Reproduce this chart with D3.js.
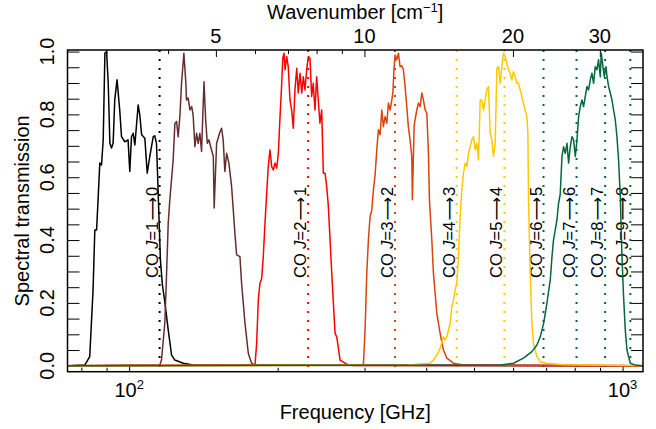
<!DOCTYPE html>
<html>
<head>
<meta charset="utf-8">
<script src="https://cdn.jsdelivr.net/npm/d3@7"></script>
<style>
  body { margin: 0; background: #fff; }
  text { font-family: "Liberation Sans", Arial, Helvetica, sans-serif; fill: #000; }
</style>
</head>
<body>
<div id="chart"></div>
<script>
// Band transmission curves: [frequency GHz, transmission]
const band1 = [[75,0],[81.3,0.002],[83.2,0.029],[84.5,0.241],[85.2,0.432],[85.9,0.432],[86.5,0.528],[87.2,0.645],[87.9,0.639],[88.6,0.719],[89.3,0.995],[90.0,1.0],[90.7,0.900],[91.4,0.708],[92.1,0.693],[92.8,0.709],[93.5,0.846],[94.5,0.910],[95.7,0.814],[96.5,0.729],[98.0,0.713],[99.5,0.719],[100.3,0.618],[101.1,0.729],[101.9,0.740],[102.7,0.703],[104.3,0.830],[105.1,0.798],[106.0,0.735],[107.6,0.724],[108.8,0.613],[110.1,0.666],[111.9,0.729],[112.7,0.732],[113.6,0.708],[114.1,0.623],[114.9,0.480],[115.7,0.337],[116.8,0.257],[118.1,0.203],[120.0,0.114],[121.9,0.034],[123.8,0.018],[128.7,0.008],[134.8,0.002],[1100,0]];
const band2 = [[75,0],[115.4,0.002],[116.3,0.018],[118.1,0.136],[119.1,0.295],[120.0,0.454],[120.9,0.528],[122.8,0.655],[123.8,0.772],[124.8,0.777],[125.7,0.729],[126.7,0.793],[127.7,0.899],[129.1,0.995],[130.3,0.899],[130.7,0.846],[131.7,0.852],[132.8,0.814],[133.9,0.825],[134.8,0.798],[135.9,0.697],[137.0,0.740],[138.0,0.708],[139.1,0.740],[140.2,0.682],[141.8,0.904],[142.9,0.783],[144.0,0.708],[145.1,0.719],[146.3,0.697],[148.1,0.666],[148.7,0.502],[150.4,0.708],[152.8,0.745],[153.9,0.756],[155.1,0.719],[156.3,0.618],[157.6,0.676],[159.3,0.645],[161.3,0.570],[162.5,0.500],[163.8,0.422],[165.1,0.353],[167.7,0.347],[169.0,0.262],[171.7,0.135],[174.4,0.039],[177.1,0.008],[179.9,0.002],[1100,0]];
const band3 = [[75,0],[179.9,0.002],[181.3,0.071],[182.7,0.209],[184.1,0.262],[185.6,0.278],[187.0,0.347],[188.5,0.454],[190.0,0.549],[191.4,0.634],[192.9,0.687],[194.5,0.634],[196.0,0.623],[197.5,0.645],[199.1,0.629],[200.6,0.676],[202.2,0.793],[203.8,0.899],[204.8,0.979],[206.0,0.995],[207.0,0.942],[208.6,0.984],[210.1,0.952],[211.8,0.846],[213.5,0.814],[215.1,0.756],[216.8,0.878],[218.6,0.947],[220.2,0.868],[222.0,0.931],[223.8,0.868],[225.4,0.920],[227.2,0.878],[229.0,0.942],[230.7,0.984],[232.5,0.979],[234.4,0.857],[236.1,0.899],[238.0,0.814],[239.9,0.920],[241.7,0.846],[243.6,0.772],[245.6,0.814],[247.5,0.613],[249.5,0.613],[251.4,0.570],[253.3,0.510],[257.4,0.294],[261.4,0.103],[263.5,0.092],[267.6,0.018],[276.1,0.005],[284.8,0.001],[1100,0]];
const band4 = [[75,0],[298.3,0.002],[300.7,0.114],[303.1,0.294],[305.4,0.400],[307.8,0.475],[310.3,0.496],[312.6,0.559],[315.1,0.607],[317.6,0.687],[320.0,0.751],[322.5,0.735],[325.1,0.814],[327.5,0.761],[330.2,0.793],[332.8,0.772],[335.3,0.836],[338.0,0.814],[340.7,0.846],[342.3,0.868],[344.4,0.952],[345.9,0.989],[348.7,0.974],[351.3,0.995],[354.1,0.952],[356.8,0.955],[359.6,0.942],[362.4,0.889],[365.3,0.825],[368.0,0.761],[371.0,0.719],[373.9,0.666],[375.0,0.528],[378.0,0.761],[379.7,0.783],[382.8,0.814],[385.7,0.836],[388.8,0.825],[391.9,0.868],[394.8,0.846],[398.0,0.814],[401.1,0.804],[404.2,0.676],[406.0,0.528],[410.6,0.400],[413.7,0.294],[420.3,0.167],[426.8,0.103],[433.5,0.050],[440.4,0.024],[454.2,0.008],[476.0,0.002],[1100,0]];
const band5 = [[75,0],[365.3,0.002],[407.3,0.008],[413.7,0.018],[420.3,0.034],[426.8,0.055],[433.5,0.092],[436.9,0.082],[440.4,0.092],[447.2,0.135],[450.8,0.188],[454.2,0.209],[457.7,0.241],[461.4,0.262],[464.9,0.347],[468.6,0.475],[472.3,0.560],[476.0,0.613],[479.7,0.645],[483.6,0.634],[487.2,0.676],[491.1,0.697],[495.0,0.719],[498.7,0.729],[502.7,0.687],[506.7,0.708],[510.5,0.655],[514.6,0.846],[518.6,0.846],[522.6,0.814],[526.7,0.846],[530.9,0.878],[534.9,0.889],[539.1,0.740],[543.4,0.719],[547.4,0.666],[551.8,0.708],[554.4,0.846],[556.2,0.947],[560.4,0.952],[564.8,0.899],[569.3,0.952],[573.5,0.995],[578.1,0.984],[582.7,0.963],[587.1,0.942],[591.7,0.931],[596.5,0.910],[600.9,0.936],[605.8,0.920],[610.6,0.899],[615.2,0.899],[620.1,0.878],[629.7,0.836],[634.7,0.814],[639.8,0.793],[642.8,0.740],[644.6,0.540],[649.8,0.294],[654.9,0.135],[659.9,0.071],[670.5,0.029],[681.0,0.013],[702.6,0.008],[760,0.003],[1100,0]];
const band6 = [[75,0],[564.8,0.002],[600.9,0.008],[629.7,0.024],[654.9,0.045],[670.5,0.066],[681.0,0.092],[691.8,0.135],[697.3,0.167],[702.6,0.199],[713.6,0.273],[719.3,0.347],[724.4,0.400],[730.3,0.432],[736.1,0.464],[741.7,0.517],[747.5,0.545],[753.6,0.666],[759.2,0.697],[765.3,0.676],[771.4,0.708],[777.3,0.645],[783.4,0.697],[789.7,0.729],[795.6,0.719],[802.0,0.666],[808.3,0.719],[814.5,0.793],[820.9,0.825],[827.4,0.846],[833.7,0.825],[840.3,0.857],[847.0,0.889],[853.1,0.878],[860.1,0.910],[866.9,0.931],[873.4,0.899],[880.3,0.952],[887.2,0.942],[894.0,0.974],[901.1,0.920],[905.3,0.995],[912.5,0.952],[918.2,0.920],[925.4,0.952],[929.8,0.920],[936.9,0.889],[944.3,0.868],[951.7,0.846],[958.8,0.814],[966.5,0.783],[974.1,0.729],[981.5,0.655],[989.3,0.540],[997.2,0.347],[1004.7,0.220],[1012.7,0.114],[1020.7,0.050],[1036.6,0.008],[1061.1,0.002],[1100,0]];
const bands = [band1, band2, band3, band4, band5, band6];

// CO rotational lines
const coUpperJ = [1, 2, 3, 4, 5, 6, 7, 8, 9];
const coFreq = [115.27, 230.54, 345.80, 461.04, 576.27, 691.47, 806.65, 921.80, 1036.91];
const coBand = [0, 2, 3, 4, 4, 5, 5, 5, 5];

// Ticks
const freqMajor = [100, 1000];
const freqMinor = [80, 90, 200, 300, 400, 500, 600, 700, 800, 900];
const waveMajor = [5, 10, 20, 30];
const waveMinor = [3, 4, 6, 7, 8, 9];
const yLabels = [0, 0.2, 0.4, 0.6, 0.8, 1.0];
const yTicks = d3.range(0, 1.0001, 0.05);

const GHZ_PER_CM = 29.9792;
const bandColours = ["#000000", "#652e2e", "#ff0000", "#d9440d", "#ffc800", "#00693a"];

const W = 656, H = 429;
const L = 67.5, R = 643, T = 50, B = 371.7;

const svg = d3.select("#chart").append("svg")
    .attr("width", W).attr("height", H);

const x = d3.scaleLog().domain([75, 1100]).range([L, R]);
const xw = d3.scaleLog().domain([75 / GHZ_PER_CM, 1100 / GHZ_PER_CM]).range([L, R]);
const y = d3.scaleLinear().domain([-0.019, 1.005]).range([B, T]);

svg.append("clipPath").attr("id", "plot")
    .append("rect").attr("x", L).attr("y", T).attr("width", R - L).attr("height", B - T);

// Axes ticks
function ticks(axis, tx, ty) {
    const g = svg.append("g").attr("transform", `translate(${tx},${ty})`).call(axis);
    g.select(".domain").remove();
    g.selectAll("line").attr("stroke", "#000").attr("stroke-width", 1);
    g.selectAll("text").remove();
}
ticks(d3.axisTop(x).tickValues(freqMinor).tickSize(4).tickFormat(""), 0, B);
ticks(d3.axisTop(x).tickValues(freqMajor).tickSize(7).tickFormat(""), 0, B);
ticks(d3.axisBottom(xw).tickValues(waveMinor).tickSize(4).tickFormat(""), 0, T);
ticks(d3.axisBottom(xw).tickValues(waveMajor).tickSize(7).tickFormat(""), 0, T);
ticks(d3.axisRight(y).tickValues(yTicks).tickSize(12).tickFormat(""), L, 0);
ticks(d3.axisLeft(y).tickValues(yTicks).tickSize(12).tickFormat(""), R, 0);

// CO lines
svg.append("g").selectAll("line").data(coFreq).join("line")
    .attr("x1", d => x(d)).attr("x2", d => x(d))
    .attr("y1", T).attr("y2", B)
    .attr("stroke", (d, i) => bandColours[coBand[i]])
    .attr("stroke-width", 2)
    .attr("stroke-dasharray", "2,7");

const coLab = svg.append("g").selectAll("text").data(coFreq).join("text")
    .attr("transform", d => `translate(${x(d) - 2},278) rotate(-90)`)
    .style("font-size", "16.5px");
coLab.append("tspan").text("CO ");
coLab.append("tspan").style("font-style", "italic").text("J");
coLab.append("tspan").text((d, i) => "=" + coUpperJ[i]);
coLab.append("tspan").attr("dx", 1).style("font-family", "'DejaVu Sans'").text("\u27F6");
coLab.append("tspan").attr("dx", 1).text((d, i) => coUpperJ[i] - 1);

// Band curves
const line = d3.line().x(d => x(d[0])).y(d => y(d[1]));
svg.append("g").attr("clip-path", "url(#plot)")
    .selectAll("path").data(bands).join("path")
    .attr("fill", "none")
    .attr("stroke", (d, i) => bandColours[i])
    .attr("stroke-width", 1.5)
    .attr("stroke-linejoin", "round")
    .attr("d", line);

// Frame
svg.append("rect").attr("x", L).attr("y", T).attr("width", R - L).attr("height", B - T)
    .attr("fill", "none").attr("stroke", "#000").attr("stroke-width", 1.5);

// Tick labels
svg.append("g").selectAll("text").data(yLabels).join("text")
    .attr("transform", d => `translate(54,${y(d)}) rotate(-90)`)
    .attr("text-anchor", "middle").style("font-size", "20px")
    .text(d => d.toFixed(1));

const xl = svg.append("g").selectAll("text").data(freqMajor).join("text")
    .attr("x", d => x(d)).attr("y", 397)
    .attr("text-anchor", "middle").style("font-size", "20px");
xl.append("tspan").text("10");
xl.append("tspan").attr("dy", -8).style("font-size", "13px").text(d => Math.round(Math.log10(d)));

svg.append("g").selectAll("text").data(waveMajor).join("text")
    .attr("x", d => xw(d)).attr("y", 43)
    .attr("text-anchor", "middle").style("font-size", "20px")
    .text(d => d);

// Axis titles
svg.append("text").attr("x", (L + R) / 2).attr("y", 419)
    .attr("text-anchor", "middle").style("font-size", "20px")
    .text("Frequency [GHz]");

const wt = svg.append("text").attr("x", (L + R) / 2).attr("y", 19)
    .attr("text-anchor", "middle").style("font-size", "20px");
wt.append("tspan").text("Wavenumber [cm");
wt.append("tspan").attr("dy", -7).style("font-size", "13px").text("\u22121");
wt.append("tspan").attr("dy", 7).text("]");

svg.append("text").attr("transform", `translate(29,${(T + B) / 2}) rotate(-90)`)
    .attr("text-anchor", "middle").style("font-size", "20px")
    .text("Spectral transmission");
</script>
</body>
</html>
